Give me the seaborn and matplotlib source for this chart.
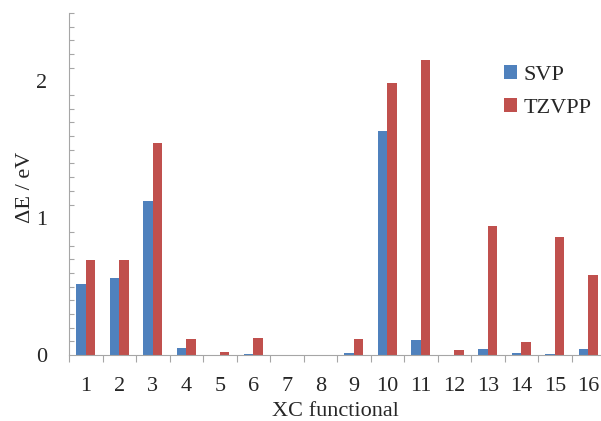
import pandas as pd
import numpy as np
import matplotlib
matplotlib.use('Agg')
import matplotlib.pyplot as plt
import seaborn as sns
from matplotlib.ticker import MultipleLocator, FixedLocator

# data
functionals = [str(i) for i in range(1, 17)]
svp = [0.516, 0.56, 1.124, 0.049, 0.0, 0.007, 0.0, 0.0,
       0.017, 1.637, 0.109, 0.0, 0.046, 0.012, 0.007, 0.046]
tzvpp = [0.698, 0.698, 1.55, 0.114, 0.022, 0.124, 0.0, 0.0,
         0.119, 1.99, 2.158, 0.036, 0.942, 0.092, 0.859, 0.584]

df = pd.DataFrame({'XC': functionals * 2,
                   'dE': svp + tzvpp,
                   'basis': ['SVP'] * 16 + ['TZVPP'] * 16})

sns.set_style("white")
plt.rcParams['font.family'] = ['Liberation Serif', 'DejaVu Serif']

fig = plt.figure(figsize=(6.01, 4.21), dpi=100)
ax = fig.add_axes([69 / 601, 66 / 421, 536 / 601, 342 / 421])

sns.barplot(data=df, x='XC', y='dE', hue='basis', order=functionals,
            palette=['#4F81BD', '#C0504D'], width=0.58, linewidth=0,
            saturation=1, ax=ax)

ax.set_xlim(-0.5, 15.5)
ax.set_ylim(0, 2.5)
ax.yaxis.set_major_locator(FixedLocator([0, 1, 2]))
ax.yaxis.set_minor_locator(MultipleLocator(0.1))
ax.xaxis.set_minor_locator(FixedLocator(np.arange(-0.5, 16, 1)))

ax.tick_params(axis='y', which='major', direction='inout', length=9.4,
               width=0.8, color='#A6A6A6', labelsize=16, pad=11)
ax.tick_params(axis='y', which='minor', direction='in', length=3.6,
               width=0.8, color='#A6A6A6', left=True)
ax.tick_params(axis='x', which='major', length=0, labelsize=16, pad=16)
ax.tick_params(axis='x', which='minor', direction='out', length=5,
               width=0.8, color='#A6A6A6', bottom=True)

for side in ['top', 'right']:
    ax.spines[side].set_visible(False)
for side in ['left', 'bottom']:
    ax.spines[side].set_color('#A6A6A6')
    ax.spines[side].set_linewidth(0.8)

ax.set_xlabel('XC functional', fontsize=16, va='center')
ax.xaxis.set_label_coords(0.497, -0.166)
ax.set_ylabel('ΔE / eV', fontsize=16, va='center')
ax.yaxis.set_label_coords(-0.082, 0.49)

ax.legend(frameon=False, fontsize=16, loc='upper left',
          bbox_to_anchor=(0.775, 0.905), handlelength=0.55, handleheight=0.55,
          handletextpad=0.3, labelspacing=0.6)

fig.savefig('out.png', dpi=100)
